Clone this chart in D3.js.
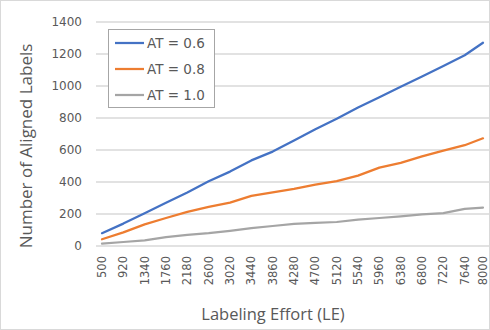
<!DOCTYPE html>
<html>
<head>
<meta charset="utf-8">
<script src="https://cdn.jsdelivr.net/npm/d3@7"></script>
<style>
  body { margin: 0; background: #fff; }
  text { fill: #595959; }
</style>
</head>
<body>
<div id="chart"></div>
<script>
// labeling effort (x) and aligned label counts per threshold
var effort = [500, 920, 1340, 1760, 2180, 2600, 3020, 3440, 3860, 4280, 4700,
              5120, 5540, 5960, 6380, 6800, 7220, 7640, 8000];
var at06 = [80, 140, 205, 270, 335, 405, 465, 535, 590, 660, 730,
            795, 865, 930, 995, 1060, 1125, 1192, 1270];
var at08 = [42, 85, 135, 175, 213, 245, 271, 313, 335, 357, 384,
            405, 440, 490, 520, 560, 596, 630, 673];
var at10 = [15, 25, 35, 55, 70, 80, 95, 112, 125, 138, 145,
            150, 165, 175, 185, 197, 205, 232, 240];
var yTicks = [0, 200, 400, 600, 800, 1000, 1200, 1400];
var seriesNames = ["AT = 0.6", "AT = 0.8", "AT = 1.0"];
var seriesColors = ["#4472C4", "#ED7D31", "#A5A5A5"];

var width = 490, height = 330;
var tickFont = "DejaVu Sans, sans-serif";
var titleFont = "Open Sans, sans-serif";

var svg = d3.select("#chart").append("svg")
    .attr("width", width)
    .attr("height", height);

svg.append("rect")
    .attr("x", 0.5).attr("y", 0.5)
    .attr("width", width - 1).attr("height", height - 1)
    .style("fill", "#fff")
    .style("stroke", "#d9d9d9");

var x = d3.scaleLinear().domain([500, 8000]).range([102, 483]);
var y = d3.scaleLinear().domain([0, 1400]).range([246, 22]);

// gridlines
svg.selectAll(".grid")
    .data(yTicks)
    .enter().append("line")
    .attr("x1", 96)
    .attr("x2", 490)
    .attr("y1", function (d) { return y(d); })
    .attr("y2", function (d) { return y(d); })
    .style("stroke", "#d9d9d9")
    .style("stroke-width", 1.3);

// y tick labels
svg.selectAll(".ytick")
    .data(yTicks)
    .enter().append("text")
    .attr("x", 82)
    .attr("y", function (d) { return y(d) + 4; })
    .attr("text-anchor", "end")
    .style("font-family", tickFont)
    .style("font-size", "12px")
    .text(function (d) { return d; });

// x tick labels, rotated
svg.selectAll(".xtick")
    .data(effort)
    .enter().append("text")
    .attr("transform", function (d) { return "translate(" + (x(d) + 4) + ",256) rotate(-90)"; })
    .attr("text-anchor", "end")
    .style("font-family", tickFont)
    .style("font-size", "11.5px")
    .text(function (d) { return d; });

// lines
var line = d3.line()
    .x(function (d, i) { return x(effort[i]); })
    .y(function (d) { return y(d); });

var allSeries = [at06, at08, at10];
allSeries.forEach(function (s, k) {
    svg.append("path")
        .datum(s)
        .attr("d", line)
        .style("fill", "none")
        .style("stroke", seriesColors[k])
        .style("stroke-width", 2.25)
        .style("stroke-linejoin", "round")
        .style("stroke-linecap", "round");
});

// axis titles
svg.append("text")
    .attr("x", 273)
    .attr("y", 320)
    .attr("text-anchor", "middle")
    .style("font-family", titleFont)
    .style("font-size", "16.5px")
    .text("Labeling Effort (LE)");

svg.append("text")
    .attr("transform", "translate(32,146) rotate(-90)")
    .attr("text-anchor", "middle")
    .style("font-family", titleFont)
    .style("font-size", "17px")
    .text("Number of Aligned Labels");

// legend
var legend = svg.append("g");
legend.append("rect")
    .attr("x", 108.5).attr("y", 29.5)
    .attr("width", 106).attr("height", 78)
    .style("fill", "#fff")
    .style("stroke", "#a6a6a6");

var items = legend.selectAll(".item")
    .data(seriesNames)
    .enter().append("g")
    .attr("transform", function (d, i) { return "translate(0," + (43 + i * 26) + ")"; });

items.append("line")
    .attr("x1", 115).attr("x2", 144)
    .attr("y1", 0).attr("y2", 0)
    .style("stroke", function (d, i) { return seriesColors[i]; })
    .style("stroke-width", 2.25);

items.append("text")
    .attr("x", 147)
    .attr("y", 5)
    .style("font-family", tickFont)
    .style("font-size", "13.5px")
    .text(function (d) { return d; });
</script>
</body>
</html>
